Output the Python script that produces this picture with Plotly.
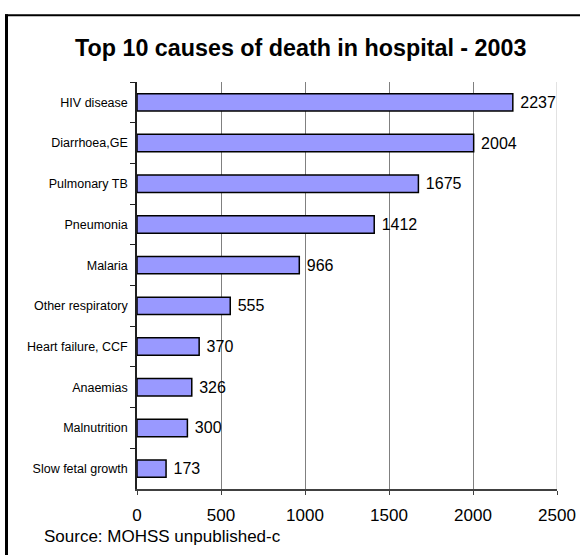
import plotly.graph_objects as go

causes = ["HIV disease", "Diarrhoea,GE", "Pulmonary TB", "Pneumonia", "Malaria",
          "Other respiratory", "Heart failure, CCF", "Anaemias", "Malnutrition",
          "Slow fetal growth"]
deaths = [2237, 2004, 1675, 1412, 966, 555, 370, 326, 300, 173]
x_ticks = [0, 500, 1000, 1500, 2000, 2500]
title_text = "Top 10 causes of death in hospital - 2003"
source_text = "Source: MOHSS unpublished-c"

W, H = 580, 555
ML, MR, MT, MB = 137, 23, 81.5, 65.5
PW, PH = W - ML - MR, H - MT - MB

def px_x(p):
    return (p - ML) / PW

def px_y(p):
    return (H - MB - p) / PH

FONT = "Arial, Liberation Sans, sans-serif"

fig = go.Figure(go.Bar(
    x=deaths, y=causes, orientation="h",
    marker=dict(color="#9999FF", line=dict(color="black", width=1.5)),
    texttemplate="\u00a0%{x}", textposition="outside", cliponaxis=False,
    constraintext="none",
    textfont=dict(family=FONT, size=16, color="black"),
))

fig.update_layout(
    width=W, height=H,
    margin=dict(l=ML, r=MR, t=MT, b=MB, pad=0, autoexpand=False),
    paper_bgcolor="white", plot_bgcolor="white",
    bargap=0.573, showlegend=False,
    font=dict(family=FONT, color="black"),
    xaxis=dict(range=[0, 2500], tickvals=x_ticks, showgrid=True,
               gridcolor="#808080", gridwidth=1, zeroline=False,
               showline=True, linecolor="#404040", linewidth=1.5,
               ticks="outside", ticklen=4, tickcolor="#404040",
               ticklabelstandoff=6, automargin=False,
               tickfont=dict(family=FONT, size=17, color="black")),
    yaxis=dict(autorange="reversed", showgrid=False, zeroline=False,
               showline=True, linecolor="#202020", linewidth=1.5,
               ticks="outside", ticklen=5, tickcolor="#202020",
               tickson="boundaries", ticklabelstandoff=5, automargin=False,
               tickfont=dict(family=FONT, size=12.5, color="black")),
    annotations=[
        dict(text="<b>" + title_text + "</b>", xref="paper", yref="paper",
             x=px_x(300), y=px_y(47.5), xanchor="center", yanchor="middle",
             showarrow=False, font=dict(family=FONT, size=23.3, color="black")),
        dict(text=source_text, xref="paper", yref="paper",
             x=px_x(42), y=px_y(537.5), xanchor="left", yanchor="middle",
             showarrow=False, font=dict(family=FONT, size=17, color="black")),
    ],
    shapes=[
        dict(type="line", xref="x", yref="paper", x0=2500, x1=2500, y0=0, y1=1,
             line=dict(color="#D8D8D8", width=1.5)),
        dict(type="line", xref="paper", yref="paper", x0=px_x(6.5), x1=px_x(6.5),
             y0=px_y(13.5), y1=px_y(560), line=dict(color="black", width=3)),
        dict(type="line", xref="paper", yref="paper", x0=px_x(5), x1=px_x(590),
             y0=px_y(14.5), y1=px_y(14.5), line=dict(color="black", width=2)),
    ],
)

fig.write_html("out.html")
